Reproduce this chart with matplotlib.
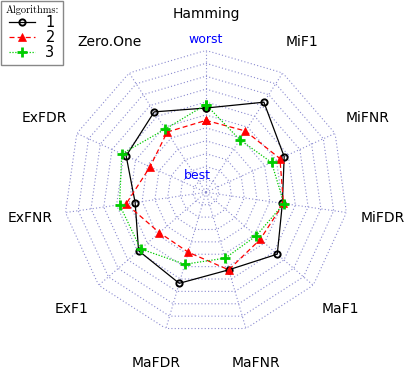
import matplotlib
matplotlib.use("Agg")
import matplotlib.pyplot as plt
import numpy as np

# axis names, clockwise from the top
measures = ["Hamming", "MiF1", "MiFNR", "MiFDR", "MaF1", "MaFNR",
            "MaFDR", "ExF1", "ExFNR", "ExFDR", "Zero.One"]

# scaled scores (0 = best at the centre, 1 = worst at the rim)
algo1 = [0.594, 0.755, 0.606, 0.544, 0.665, 0.569, 0.668, 0.628, 0.504, 0.618, 0.674]
algo2 = [0.507, 0.514, 0.573, 0.552, 0.506, 0.569, 0.440, 0.434, 0.568, 0.433, 0.505]
algo3 = [0.618, 0.441, 0.508, 0.555, 0.468, 0.483, 0.528, 0.609, 0.615, 0.652, 0.530]
algo_names = ["1", "2", "3"]

n_rings = 11
grid_col = "#8a8ad0"

n = len(measures)
theta = np.linspace(0, 2 * np.pi, n, endpoint=False)
theta_c = np.append(theta, theta[0])

fig = plt.figure(figsize=(4.07, 3.79), dpi=100)
ax = fig.add_axes([0.157, 0.118, 0.698, 0.749], projection="polar")
ax.set_theta_zero_location("N")
ax.set_theta_direction(-1)
ax.set_ylim(0, 1)
ax.axis("off")

# polygon grid
for k in range(1, n_rings + 1):
    r = k / n_rings
    ax.plot(theta_c, [r] * (n + 1), color=grid_col, lw=0.8,
            linestyle=(0, (1, 2)), zorder=1)
for t in theta:
    ax.plot([t, t], [0, 1], color=grid_col, lw=0.8,
            linestyle=(0, (1, 2)), zorder=1)

# axis labels
for t, name in zip(theta, measures):
    ax.text(t, 1.255, name, ha="center", va="center", fontsize=10)

ax.text(0, 1.03, "worst", color="blue", ha="center", va="bottom", fontsize=9)
ax.annotate("best", xy=(0, 0), xytext=(-6, 12), textcoords="offset points",
            color="blue", ha="center", va="center", fontsize=9)

styles = [
    dict(color="black", ls="-", lw=0.9, marker="o", ms=4.5, mfc="none", mew=1.4),
    dict(color="red", ls=(0, (4, 2.5)), lw=0.9, marker="^", ms=6, mfc="red", mew=0.5),
    dict(color="#00cc00", ls=(0, (1, 1.3)), lw=0.9, marker="+", ms=7, mew=2),
]
lines = []
for vals, st, name in zip([algo1, algo2, algo3], styles, algo_names):
    v = np.append(vals, vals[0])
    ln, = ax.plot(theta_c, v, label=name, zorder=3, clip_on=False, **st)
    lines.append(ln)

leg = fig.legend(handles=lines, loc="upper left", bbox_to_anchor=(0.002, 0.998),
                 title="Algorithms:", fontsize=10.5, fancybox=False,
                 edgecolor="#888888", framealpha=1, borderpad=0.3,
                 labelspacing=0.0, handlelength=1.8, handletextpad=0.7,
                 borderaxespad=0.0)
leg.get_title().set_fontfamily("cmr10")
leg.get_title().set_fontsize(7.5)
leg.get_frame().set_linewidth(1.0)

fig.savefig("out.png", dpi=100)
